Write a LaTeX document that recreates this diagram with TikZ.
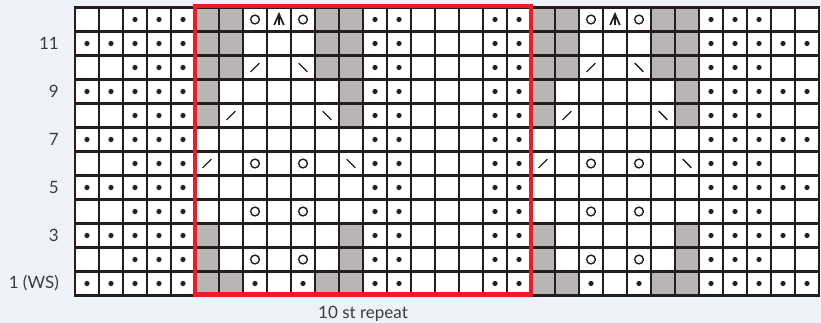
\documentclass[tikz,border=0pt]{standalone}
\usepackage{fontspec}
\setmainfont{Lato}
\definecolor{bgc}{RGB}{239,242,248}
\definecolor{ink}{RGB}{35,31,32}
\definecolor{greyc}{RGB}{186,181,181}
\definecolor{redc}{RGB}{237,28,36}
\definecolor{txt}{RGB}{60,60,62}
\tikzset{
  gridline/.style={draw=ink, line width=2.3pt},
  sym/.style={draw=ink, line width=1.4pt},
  redbox/.style={draw=redc, line width=4.2pt},
  rowlabel/.style={anchor=east, inner sep=0pt, text=txt, font=\fontsize{17}{20}\selectfont},
  caption/.style={anchor=base, inner sep=0pt, text=txt, font=\fontsize{17}{20}\selectfont}
}
\newcommand\cellg[2]{\fill[greyc] (#1-12,#2-12) rectangle (#1+12,#2+12);}
\newcommand\celld[2]{\fill[ink] (#1,#2) circle (2.6);}
\newcommand\cello[2]{\draw[sym] (#1,#2) circle (4.4);}
\newcommand\celll[2]{\draw[sym] (#1-4.3,#2+4.3) -- (#1+4.3,#2-4.3);}
\newcommand\cellr[2]{\draw[sym] (#1-4.3,#2-4.3) -- (#1+4.3,#2+4.3);}
\newcommand\cella[2]{\draw[sym, line width=1.7pt, line join=miter] (#1-4.8,#2+5.5) -- (#1,#2-5.5) -- (#1+4.8,#2+5.5); \draw[sym] (#1,#2-5) -- (#1,#2+5.5);}
\expandafter\newcommand\csname cell0\endcsname[2]{}
\begin{document}
\begin{tikzpicture}[x=1pt,y=-1pt]
\useasboundingbox[fill=bgc] (0,0) rectangle (821,323);
\fill[white] (75,7.5) rectangle (819,295.5);
% cells
\foreach \r/\cells in {
 12/{0,0,d,d,d,g,g,o,a,o,g,g,d,d,0,0,0,d,d,g,g,o,a,o,g,g,d,d,d,0,0},
 11/{d,d,d,d,d,g,g,0,0,0,g,g,d,d,0,0,0,d,d,g,g,0,0,0,g,g,d,d,d,d,d},
 10/{0,0,d,d,d,g,g,l,0,r,g,g,d,d,0,0,0,d,d,g,g,l,0,r,g,g,d,d,d,0,0},
 9/{d,d,d,d,d,g,0,0,0,0,0,g,d,d,0,0,0,d,d,g,0,0,0,0,0,g,d,d,d,d,d},
 8/{0,0,d,d,d,g,l,0,0,0,r,g,d,d,0,0,0,d,d,g,l,0,0,0,r,g,d,d,d,0,0},
 7/{d,d,d,d,d,0,0,0,0,0,0,0,d,d,0,0,0,d,d,0,0,0,0,0,0,0,d,d,d,d,d},
 6/{0,0,d,d,d,l,0,o,0,o,0,r,d,d,0,0,0,d,d,l,0,o,0,o,0,r,d,d,d,0,0},
 5/{d,d,d,d,d,0,0,0,0,0,0,0,d,d,0,0,0,d,d,0,0,0,0,0,0,0,d,d,d,d,d},
 4/{0,0,d,d,d,0,0,o,0,o,0,0,d,d,0,0,0,d,d,0,0,o,0,o,0,0,d,d,d,0,0},
 3/{d,d,d,d,d,g,0,0,0,0,0,g,d,d,0,0,0,d,d,g,0,0,0,0,0,g,d,d,d,d,d},
 2/{0,0,d,d,d,g,0,o,0,o,0,g,d,d,0,0,0,d,d,g,0,o,0,o,0,g,d,d,d,0,0},
 1/{d,d,d,d,d,g,g,d,0,d,g,g,d,d,0,0,0,d,d,g,g,d,0,d,g,g,d,d,d,d,d}} {
  \pgfmathsetmacro\cy{7.5+24*(12-\r)+12}
  \foreach \c [count=\i] in \cells {
    \pgfmathsetmacro\cx{75+24*(\i-1)+12}
    \csname cell\c\endcsname{\cx}{\cy}
  }
}
% grid
\foreach \i in {0,...,31} \draw[gridline] (75+24*\i,7.5) -- (75+24*\i,295.5);
\foreach \j in {0,...,12} \draw[gridline] (75,7.5+24*\j) -- (819,7.5+24*\j);
\draw[gridline, line join=miter] (75,7.5) rectangle (819,295.5);
% repeat box
\draw[redbox] (195,6.2) rectangle (531,294.5);
% labels
\node[rowlabel] (l11) at (59,43.5) {11};
\node[rowlabel] (l9) at (59,91.5) {9};
\node[rowlabel] (l7) at (59,139.5) {7};
\node[rowlabel] (l5) at (59,187.5) {5};
\node[rowlabel] (l3) at (59,235.5) {3};
\node[rowlabel] (l1) at (59,283.5) {1 (WS)};
\node[caption] (rep) at (363,318) {10 st repeat};
\end{tikzpicture}
\end{document}
